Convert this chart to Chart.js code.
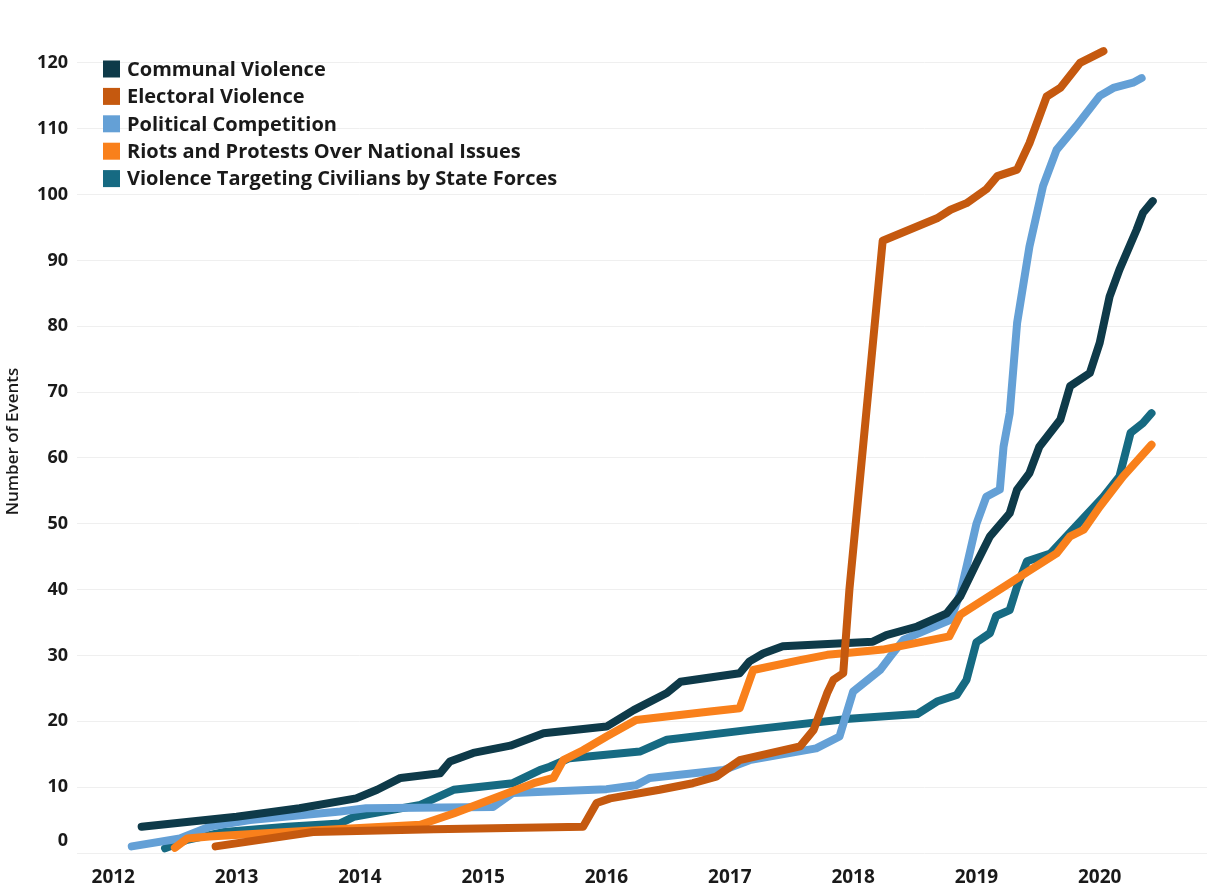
<!DOCTYPE html>
<html>
<head>
<meta charset="utf-8">
<script src="https://cdn.jsdelivr.net/npm/chart.js@4"></script>
<style>
  body { margin: 0; background: #fff; }
</style>
</head>
<body>
<canvas id="eventsChart" width="1214" height="888"></canvas>
<script>
/* Cumulative events by type, [year, count] */
const communal = [
  [2012.23, 4.0], [2013.0, 5.5], [2013.51, 6.8], [2013.97, 8.3], [2014.14, 9.6],
  [2014.33, 11.4], [2014.65, 12.1], [2014.73, 13.9], [2014.92, 15.2], [2015.22, 16.3],
  [2015.49, 18.2], [2016.0, 19.2], [2016.22, 21.7], [2016.49, 24.3], [2016.6, 26.0],
  [2017.08, 27.3], [2017.16, 29.1], [2017.27, 30.3], [2017.43, 31.4], [2018.16, 32.1],
  [2018.27, 33.1], [2018.52, 34.4], [2018.76, 36.4], [2018.87, 39.0], [2019.0, 44.0],
  [2019.11, 48.1], [2019.27, 51.6], [2019.33, 55.2], [2019.43, 57.7], [2019.51, 61.7],
  [2019.68, 65.8], [2019.76, 70.9], [2019.92, 72.9], [2020.0, 77.5], [2020.08, 84.5],
  [2020.16, 88.6], [2020.3, 94.7], [2020.35, 97.2], [2020.43, 99.0]
];
const electoral = [
  [2012.83, 1.0], [2013.62, 3.2], [2014.6, 3.6], [2015.81, 4.0], [2015.92, 7.6],
  [2016.03, 8.3], [2016.43, 9.6], [2016.7, 10.6], [2016.89, 11.6], [2017.08, 14.1],
  [2017.57, 16.2], [2017.68, 18.7], [2017.79, 24.3], [2017.84, 26.3], [2017.92, 27.3],
  [2017.97, 40.0], [2018.24, 93.0], [2018.68, 96.4], [2018.79, 97.7], [2018.92, 98.7],
  [2019.08, 100.8], [2019.17, 102.8], [2019.33, 103.8], [2019.43, 107.8], [2019.57, 114.9],
  [2019.68, 116.2], [2019.84, 120.0], [2020.03, 121.8]
];
const political = [
  [2012.15, 1.0], [2012.54, 2.2], [2012.78, 4.0], [2013.11, 5.0], [2013.84, 6.3],
  [2014.05, 6.8], [2015.08, 7.0], [2015.24, 9.1], [2016.0, 9.7], [2016.24, 10.3],
  [2016.35, 11.4], [2016.95, 12.6], [2017.16, 14.1], [2017.7, 15.9], [2017.89, 17.7],
  [2018.0, 24.5], [2018.22, 27.8], [2018.3, 29.8], [2018.41, 32.4], [2018.79, 35.4],
  [2018.87, 39.5], [2018.92, 43.5], [2019.0, 50.0], [2019.08, 54.1], [2019.19, 55.2],
  [2019.22, 61.7], [2019.27, 66.8], [2019.33, 80.5], [2019.43, 92.1], [2019.54, 101.3],
  [2019.65, 106.8], [2019.81, 110.4], [2020.0, 115.0], [2020.11, 116.2], [2020.27, 117.0],
  [2020.34, 117.7]
];
const riots = [
  [2012.5, 0.8], [2012.6, 2.2], [2012.78, 2.5], [2013.62, 3.4], [2014.49, 4.3],
  [2014.76, 6.0], [2015.41, 10.6], [2015.57, 11.4], [2015.65, 14.1], [2015.81, 15.6],
  [2016.0, 17.7], [2016.24, 20.2], [2016.84, 21.5], [2017.08, 22.0], [2017.19, 27.8],
  [2017.57, 29.3], [2017.79, 30.1], [2017.97, 30.4], [2018.24, 30.9], [2018.78, 32.9],
  [2018.87, 36.2], [2019.27, 41.0], [2019.65, 45.5], [2019.76, 48.1], [2019.87, 49.1],
  [2020.0, 52.6], [2020.19, 57.2], [2020.42, 62.0]
];
const stateForces = [
  [2012.42, 0.7], [2012.6, 2.0], [2012.9, 3.2], [2013.41, 4.0], [2013.84, 4.5],
  [2013.95, 5.5], [2014.49, 7.3], [2014.76, 9.6], [2015.24, 10.6], [2015.46, 12.6],
  [2015.54, 13.1], [2015.7, 14.4], [2016.27, 15.4], [2016.49, 17.2], [2017.16, 18.7],
  [2017.97, 20.4], [2018.52, 21.1], [2018.68, 23.0], [2018.84, 24.0], [2018.92, 26.3],
  [2019.0, 32.0], [2019.11, 33.4], [2019.16, 36.0], [2019.27, 36.9], [2019.33, 40.5],
  [2019.41, 44.3], [2019.6, 45.5], [2020.03, 54.1], [2020.16, 57.2], [2020.25, 63.8],
  [2020.35, 65.3], [2020.42, 66.8]
];

const seriesNames = [
  "Communal Violence",
  "Electoral Violence",
  "Political Competition",
  "Riots and Protests Over National Issues",
  "Violence Targeting Civilians by State Forces"
];
const years = [2012, 2013, 2014, 2015, 2016, 2017, 2018, 2019, 2020];
const yTicks = [0, 10, 20, 30, 40, 50, 60, 70, 80, 90, 100, 110, 120];

const colors = ["#0e3a49", "#c5590f", "#64a0d6", "#f9801b", "#166a82"];
const drawOrder = [1, 0, 3, 2, 4];

const toPoints = arr => arr.map(p => ({ x: p[0], y: p[1] }));
const allSeries = [communal, electoral, political, riots, stateForces];

const FONT = '"Open Sans", "Noto Sans", sans-serif';
const TICK_FONT = { family: FONT, size: 18, weight: "bold" };

/* legend sits inside the plot, top left */
const insideLegend = {
  id: "insideLegend",
  afterDraw(chart) {
    const ctx = chart.ctx;
    const left = chart.chartArea.left + 26;
    ctx.save();
    ctx.font = "bold 20px " + FONT;
    ctx.textBaseline = "middle";
    chart.data.datasets.forEach((ds, i) => {
      const y = 69 + i * 27.4;
      ctx.fillStyle = ds.borderColor;
      ctx.fillRect(left, y - 8.5, 17, 17);
      ctx.fillStyle = "#1a1a1a";
      ctx.fillText(ds.label, left + 24, y + 1);
    });
    ctx.restore();
  }
};

/* the bottom "0" label sits a little above its gridline, like the original */
const zeroLabel = {
  id: "zeroLabel",
  afterDraw(chart) {
    const y = chart.scales.y;
    const ctx = chart.ctx;
    ctx.save();
    ctx.font = "bold 18px " + FONT;
    ctx.fillStyle = "#1a1a1a";
    ctx.textAlign = "right";
    ctx.textBaseline = "middle";
    ctx.fillText(String(yTicks[0]), y.right - 9, y.getPixelForValue(yTicks[0]) - 12);
    ctx.restore();
  }
};

new Chart(document.getElementById("eventsChart"), {
  type: "line",
  data: {
    datasets: allSeries.map((s, i) => ({
      label: seriesNames[i],
      data: toPoints(s),
      borderColor: colors[i],
      backgroundColor: colors[i],
      borderWidth: 8,
      borderCapStyle: "round",
      borderJoinStyle: "round",
      pointRadius: 0,
      tension: 0,
      clip: false,
      order: drawOrder[i]
    }))
  },
  options: {
    responsive: false,
    animation: false,
    devicePixelRatio: 1,
    layout: { padding: { top: 30, right: 7, left: 0, bottom: 0 } },
    plugins: {
      legend: { display: false },
      tooltip: { enabled: false }
    },
    scales: {
      x: {
        type: "linear",
        min: 2011.706,
        max: 2020.87,
        afterBuildTicks: scale => { scale.ticks = years.map(v => ({ value: v })); },
        afterFit: scale => { scale.height = 35; },
        grid: { display: false, drawTicks: false },
        border: { display: false },
        ticks: {
          padding: 13,
          color: "#1a1a1a",
          font: { family: FONT, size: 19, weight: "bold" },
          callback: v => String(v)
        }
      },
      y: {
        min: 0,
        max: 125,
        afterBuildTicks: scale => { scale.ticks = yTicks.map(v => ({ value: v })); },
        afterFit: scale => { scale.width = 77; },
        grid: { color: "#efefef", lineWidth: 1, drawTicks: false },
        border: { display: false },
        ticks: {
          padding: 9,
          color: "#1a1a1a",
          font: TICK_FONT,
          callback: v => (v === yTicks[0] ? "" : String(v))
        },
        title: {
          display: true,
          text: "Number of Events",
          color: "#1a1a1a",
          font: { family: FONT, size: 17, weight: "600" },
          padding: { top: 3, bottom: 4 }
        }
      }
    }
  },
  plugins: [insideLegend, zeroLabel]
});
</script>
</body>
</html>
